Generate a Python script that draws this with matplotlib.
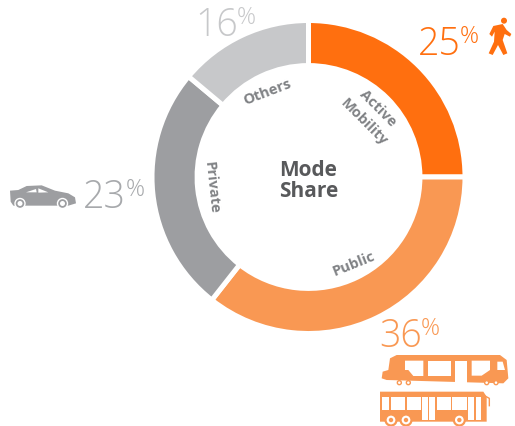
import matplotlib
matplotlib.use("Agg")
from matplotlib import pyplot as plt
from matplotlib.patches import Circle, Polygon, Rectangle

W, H = 515, 426

categories = ["Active\nMobility", "Public", "Private", "Others"]
share_labels = ["25", "36", "23", "16"]
# arcs as drawn in the picture, they are not quite to scale with the labels
arc_values = [25.0, 35.6, 25.5, 13.9]
colors = ["#FF6F0F", "#F99853", "#9D9EA1", "#C7C8CA"]

ORANGE, LIGHT_ORANGE, GREY, LIGHT_GREY = colors
TEXT = "#808285"
FONT = "Open Sans"

fig = plt.figure(figsize=(W / 100, H / 100), dpi=100)

# donut
cx, cy, r = 308.5, 177, 156.5
ax = fig.add_axes([(cx - r) / W, 1 - (cy + r) / H, 2 * r / W, 2 * r / H])
ax.pie(
    arc_values,
    colors=colors,
    startangle=90,
    counterclock=False,
    radius=1,
    wedgeprops={"width": 0.288, "edgecolor": "white", "linewidth": 3.6},
)
ax.set_xlim(-1, 1)
ax.set_ylim(-1, 1)
ax.axis("off")

# overlay in pixel coordinates for the texts and icons
ov = fig.add_axes([0, 0, 1, 1])
ov.set_xlim(0, W)
ov.set_ylim(H, 0)
ov.axis("off")
ov.patch.set_alpha(0)


def share(x, y, value, color, px):
    ov.text(x, y, value, color=color, fontsize=27, family=FONT, weight="light",
            ha="left", va="baseline")
    ov.text(px, y - 12, "%", color=color, fontsize=17, family=FONT, weight="light",
            ha="left", va="baseline")


share(418, 55, share_labels[0], ORANGE, 460)
share(379, 347, share_labels[1], LIGHT_ORANGE, 421)
share(83, 208, share_labels[2], "#A7A9AC", 126)
share(195, 36, share_labels[3], LIGHT_GREY, 237)

# labels on the ring
label_style = dict(color=TEXT, fontsize=10.5, family=FONT, weight="bold", ha="center", va="center")
ov.text(378, 108, "Active", rotation=-45, rotation_mode="anchor", **label_style)
ov.text(364, 122, "Mobility", rotation=-45, rotation_mode="anchor", **label_style)
ov.text(354, 264, categories[1], rotation=22, rotation_mode="anchor", **label_style)
ov.text(211, 188, categories[2], rotation=-84, rotation_mode="anchor", **label_style)
ov.text(267, 92, categories[3], rotation=21, rotation_mode="anchor", **label_style)

ov.text(308.5, 181, "Mode\nShare", color="#58595B", fontsize=15, family=FONT, weight="bold",
        ha="center", va="center", linespacing=1.05)


def zoomed(points, x0, y0):
    return [(x0 + px / 3, y0 + py / 3) for px, py in points]


# walker
walker = [(250, 48), (278, 42), (290, 60), (304, 72), (300, 80), (284, 72), (278, 90), (292, 130),
          (280, 135), (264, 105), (248, 135), (236, 130), (252, 95), (254, 65), (246, 80), (238, 72)]
ov.add_patch(Polygon(zoomed(walker, 410, 10), color=ORANGE, lw=0))
ov.add_patch(Circle((504, 20.7), 3, color=ORANGE, lw=0))

# car
car = [(30, 92), (55, 90), (80, 78), (125, 76), (165, 92), (205, 100), (225, 112), (228, 130),
       (205, 137), (40, 137), (32, 125)]
ov.add_patch(Polygon(zoomed(car, 0, 160), color=GREY, lw=0))
for win in ([(78, 97), (108, 87), (110, 97)], [(115, 85), (145, 97), (115, 98)]):
    ov.add_patch(Polygon(zoomed(win, 0, 160), color="white", lw=0))
for wx in (20, 62.5):
    ov.add_patch(Circle((wx, 203.5), 5, fc=GREY, ec="white", lw=1))
    ov.add_patch(Circle((wx, 203.5), 2.5, color="white", lw=0))

# train
train = [(60, 145), (80, 135), (390, 135), (410, 150), (415, 205), (400, 220), (50, 210), (35, 205),
         (38, 185), (55, 180)]
ov.add_patch(Polygon(zoomed(train, 370, 310), color=LIGHT_ORANGE, lw=0))
train_windows = [[(105, 152), (160, 152), (160, 198), (130, 198), (115, 180), (105, 180)],
                 [(175, 152), (242, 152), (242, 197), (175, 197)],
                 [(255, 152), (290, 152), (290, 220), (255, 220)],
                 [(305, 152), (360, 152), (360, 180), (335, 197), (305, 197)],
                 [(382, 155), (398, 155), (405, 180), (382, 180)]]
for win in train_windows:
    ov.add_patch(Polygon(zoomed(win, 370, 310), color="white", lw=0))
for px in (88, 115, 350, 378):
    ov.add_patch(Circle((370 + px / 3, 310 + 218 / 3), 2, fc="white", ec=LIGHT_ORANGE, lw=1))

# bus
ov.add_patch(Polygon(zoomed([(30, 245), (340, 245), (350, 260), (350, 335), (30, 335)], 370, 310),
                     color=LIGHT_ORANGE, lw=0))
bus_windows = [(36, 262, 58, 300), (63, 262, 105, 300), (110, 262, 152, 300), (157, 260, 175, 330),
               (178, 260, 195, 330), (200, 262, 243, 300), (247, 262, 290, 300), (295, 260, 313, 330),
               (317, 260, 332, 330)]
for x0, y0, x1, y1 in bus_windows:
    ov.add_patch(Rectangle((370 + x0 / 3, 310 + y0 / 3), (x1 - x0) / 3, (y1 - y0) / 3, color="white", lw=0))
ov.plot([370 + 345 / 3, 370 + 358 / 3, 370 + 358 / 3], [310 + 258 / 3, 310 + 265 / 3, 310 + 287 / 3],
        color=LIGHT_ORANGE, lw=1)
for px in (63, 108, 268):
    ov.add_patch(Circle((370 + px / 3, 310 + 330 / 3), 5.5, fc="white", ec=LIGHT_ORANGE, lw=1.6))
    ov.add_patch(Circle((370 + px / 3, 310 + 330 / 3), 2.2, color=LIGHT_ORANGE, lw=0))

fig.savefig("out.png", dpi=100)
